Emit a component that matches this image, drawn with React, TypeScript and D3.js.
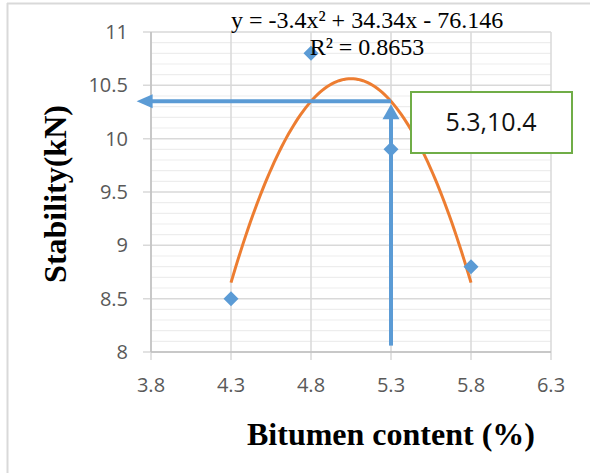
import React from "react";
import * as d3 from "d3";

// ---- data ----
const bitumen = [4.3, 4.8, 5.3, 5.8];
const stability = [8.5, 10.8, 9.9, 8.8];
const xTicks = [3.8, 4.3, 4.8, 5.3, 5.8, 6.3];
const yTicks = [8, 8.5, 9, 9.5, 10, 10.5, 11];
const trendCoef = [-3.4, 34.34, -76.146]; // a, b, c
const trendRange = [4.3, 5.8];
const eqLabel = ["y = -3.4x² + 34.34x - 76.146", "R² = 0.8653"];
const readX = 5.3;
const readArrowStartY = 8.06;
const readArrowEndX = 3.71;
const boxLabel = "5.3,10.4";
const xTitle = "Bitumen content (%)";
const yTitle = "Stability(kN)";

const W = 590;
const H = 473;

export default function App() {
  const x = d3.scaleLinear().domain([3.8, 6.3]).range([151, 551]);
  const y = d3.scaleLinear().domain([8, 11]).range([352, 32]);
  const f = (v: number) => trendCoef[0] * v * v + trendCoef[1] * v + trendCoef[2];

  const minor = d3.range(80, 111).map((v) => v / 10).filter((v) => Math.round(v * 10) % 5 !== 0);

  const samples = d3.range(0, 101).map((i) => trendRange[0] + ((trendRange[1] - trendRange[0]) * i) / 100);
  const line = d3
    .line<number>()
    .x((d) => x(d))
    .y((d) => y(f(d)))
    .curve(d3.curveLinear);

  const readY = f(readX);
  const hx = x(readX);
  const hy = y(readY);
  const leftTip = x(readArrowEndX);
  const blue = "#5b9bd5";

  const diamond = (cx: number, cy: number, r: number) =>
    `M${cx},${cy - r}L${cx + r},${cy}L${cx},${cy + r}L${cx - r},${cy}Z`;

  return (
    <svg
      width={W}
      height={H}
      style={{ position: "absolute", left: 0, top: 0, background: "#fff" }}
    >
      <rect x={0} y={0} width={W} height={H} fill="#fff" />
      {/* outer border */}
      <line x1={7} y1={3.5} x2={W} y2={3.5} stroke="#d9d9d9" strokeWidth={2} />
      <line x1={7.5} y1={3} x2={7.5} y2={H} stroke="#d9d9d9" strokeWidth={2} />

      {/* minor gridlines */}
      {minor.map((v) => (
        <line key={"m" + v} x1={x(3.8)} x2={x(6.3)} y1={y(v)} y2={y(v)} stroke="#ededed" strokeWidth={1.2} />
      ))}
      {/* major gridlines */}
      {yTicks.map((v) => (
        <line key={"gy" + v} x1={x(3.8) - 8} x2={x(6.3)} y1={y(v)} y2={y(v)} stroke="#d9d9d9" strokeWidth={1.5} />
      ))}
      {xTicks.map((v) => (
        <line key={"gx" + v} x1={x(v)} x2={x(v)} y1={y(11)} y2={y(8) + 8} stroke="#d9d9d9" strokeWidth={1.5} />
      ))}
      {/* axis lines */}
      <line x1={x(3.8)} x2={x(3.8)} y1={y(11)} y2={y(8)} stroke="#bfbfbf" strokeWidth={1.5} />
      <line x1={x(3.8)} x2={x(6.3)} y1={y(8)} y2={y(8)} stroke="#bfbfbf" strokeWidth={1.5} />

      {/* tick labels */}
      {yTicks.map((v) => (
        <text key={"ty" + v} x={128} y={y(v) + 7} textAnchor="end" fontFamily="'Open Sans', sans-serif" fontSize={20} fill="#595959">
          {String(v)}
        </text>
      ))}
      {xTicks.map((v) => (
        <text key={"tx" + v} x={x(v)} y={392} textAnchor="middle" fontFamily="'Open Sans', sans-serif" fontSize={20} fill="#595959">
          {v.toFixed(1)}
        </text>
      ))}

      {/* trendline */}
      <path d={line(samples) || ""} fill="none" stroke="#ed7d31" strokeWidth={3} />

      {/* reading arrows */}
      <line x1={hx} y1={hy} x2={leftTip + 15} y2={hy} stroke={blue} strokeWidth={4} />
      <path d={`M${leftTip},${hy}L${leftTip + 16},${hy - 7}L${leftTip + 16},${hy + 7}Z`} fill={blue} />
      <line x1={hx} y1={y(readArrowStartY)} x2={hx} y2={hy + 16} stroke={blue} strokeWidth={4} />
      <path d={`M${hx},${hy + 3}L${hx + 8.5},${hy + 18}L${hx - 8.5},${hy + 18}Z`} fill={blue} />

      {/* data points */}
      {bitumen.map((b, i) => (
        <path key={"p" + i} d={diamond(x(b), y(stability[i]), 7.5)} fill={blue} />
      ))}

      {/* equation */}
      <text x={367} y={28} textAnchor="middle" fontFamily="'Liberation Serif', 'Times New Roman', serif" fontSize={24} fill="#000">
        {eqLabel[0]}
      </text>
      <text x={367} y={55} textAnchor="middle" fontFamily="'Liberation Serif', 'Times New Roman', serif" fontSize={24} fill="#000">
        {eqLabel[1]}
      </text>

      {/* text box */}
      <rect x={411} y={92} width={161} height={61} fill="#fff" stroke="#70ad47" strokeWidth={2} />
      <text x={491} y={131} textAnchor="middle" fontFamily="'Open Sans', sans-serif" fontSize={25} fill="#111">
        {boxLabel}
      </text>

      {/* axis titles */}
      <text x={391} y={445} textAnchor="middle" fontFamily="'Liberation Serif', 'Times New Roman', serif" fontWeight="bold" fontSize={32} fill="#000">
        {xTitle}
      </text>
      <text
        transform={`translate(66,194) rotate(-90)`}
        textAnchor="middle"
        fontFamily="'Liberation Serif', 'Times New Roman', serif"
        fontWeight="bold"
        fontSize={32}
        fill="#000"
      >
        {yTitle}
      </text>
    </svg>
  );
}
